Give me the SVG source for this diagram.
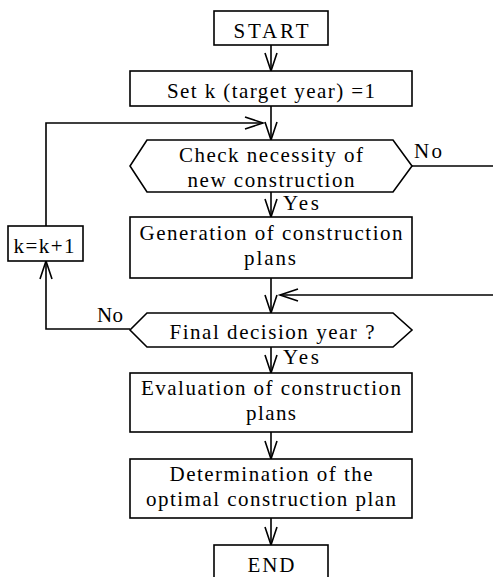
<svg xmlns="http://www.w3.org/2000/svg" width="493" height="577" viewBox="0 0 493 577">
<style>
.n{fill:#fff;stroke:#000;stroke-width:1.6}
.c{fill:none;stroke:#000;stroke-width:1.6}
</style>
<defs>
<marker id="a" markerUnits="userSpaceOnUse" markerWidth="22" markerHeight="16" refX="19" refY="7" orient="auto">
<path d="M1,1 L19,7 L1,13" fill="none" stroke="#000" stroke-width="1.6"/>
</marker>
</defs>
<rect width="493" height="577" fill="#fff"/>
<g id="connectors">
<path class="c" d="M271,45 V71" marker-end="url(#a)"/>
<path class="c" d="M271,106 V140" marker-end="url(#a)"/>
<path class="c" d="M46,226 V123 H263" marker-end="url(#a)"/>
<path class="c" d="M271,192 V217" marker-end="url(#a)"/>
<path class="c" d="M412,166 H493"/>
<path class="c" d="M271,278 V313" marker-end="url(#a)"/>
<path class="c" d="M493,295 H280" marker-end="url(#a)"/>
<path class="c" d="M130,329 H46 V261" marker-end="url(#a)"/>
<path class="c" d="M271,347 V373" marker-end="url(#a)"/>
<path class="c" d="M271,432 V459" marker-end="url(#a)"/>
<path class="c" d="M271,518 V545" marker-end="url(#a)"/>
<g font-family="Liberation Serif, serif" font-size="21" fill="#000" text-anchor="start">
<text x="414" y="158" textLength="28">No</text>
<text x="283" y="210" textLength="36">Yes</text>
<text x="97" y="322" textLength="26">No</text>
<text x="283" y="364" textLength="36">Yes</text>
</g>
</g>
<g font-family="Liberation Serif, serif" font-size="21" fill="#000" text-anchor="middle">
<g id="start">
<rect class="n" x="214" y="11" width="114" height="34"/>
<text x="271" y="38" textLength="75">START</text>
</g>
<g id="setk">
<rect class="n" x="130" y="71" width="282" height="35"/>
<text x="271" y="98" textLength="208">Set k (target year) =1</text>
</g>
<g id="check">
<polygon class="n" points="147,140 393,140 412,166 393,192 147,192 130,166"/>
<text x="271" y="162" textLength="184">Check necessity of</text>
<text x="271" y="187" textLength="167">new construction</text>
</g>
<g id="generation">
<rect class="n" x="130" y="217" width="282" height="61"/>
<text x="271" y="240" textLength="263">Generation of construction</text>
<text x="270" y="265" textLength="52">plans</text>
</g>
<g id="kinc">
<rect class="n" x="8" y="226" width="75" height="35"/>
<text x="44" y="253" textLength="61">k=k+1</text>
</g>
<g id="final">
<polygon class="n" points="147,313 393,313 412,330 393,347 147,347 130,330"/>
<text x="272" y="339" textLength="205">Final decision year ?</text>
</g>
<g id="evaluation">
<rect class="n" x="130" y="373" width="282" height="59"/>
<text x="271" y="395" textLength="260">Evaluation of construction</text>
<text x="271" y="420" textLength="50">plans</text>
</g>
<g id="determination">
<rect class="n" x="130" y="459" width="282" height="59"/>
<text x="271" y="481" textLength="203">Determination of the</text>
<text x="271" y="506" textLength="250">optimal construction plan</text>
</g>
<g id="end">
<rect class="n" x="214" y="545" width="114" height="40"/>
<text x="271" y="572" textLength="47">END</text>
</g>
</g>
</svg>
